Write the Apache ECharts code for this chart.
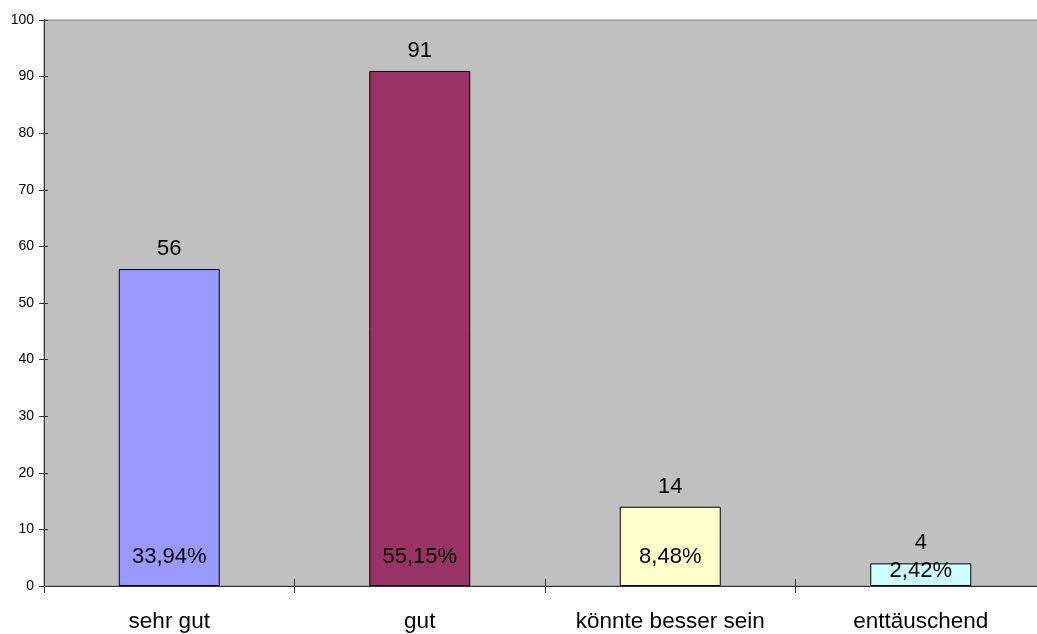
<!DOCTYPE html>
<html>
<head>
<meta charset="utf-8">
<script src="https://cdn.jsdelivr.net/npm/echarts@6/dist/echarts.min.js"></script>
<style>
html,body{margin:0;padding:0;background:#fff;overflow:hidden;}
#chart{width:1046px;height:634px;}
</style>
</head>
<body>
<div id="chart"></div>
<script>
const categories = ['sehr gut', 'gut', 'könnte besser sein', 'enttäuschend'];
const counts = [56, 91, 14, 4];
const percentLabels = ['33,94%', '55,15%', '8,48%', '2,42%'];
const barColors = ['#9999FF', '#993366', '#FFFFCC', '#CCFFFF'];
const yTicks = [0, 10, 20, 30, 40, 50, 60, 70, 80, 90, 100];

const FONT = '"Liberation Sans", Arial, sans-serif';
const chart = echarts.init(document.getElementById('chart'), null, {renderer: 'canvas'});

const countData = counts.map((v, i) => ({
  value: v,
  itemStyle: {color: barColors[i]}
}));
const pctData = counts.map((v, i) => {
  const d = {value: v};
  if (v < 10) d.label = {position: 'insideTop', distance: -3};
  return d;
});

chart.setOption({
  animation: false,
  backgroundColor: '#ffffff',
  grid: {
    left: 44, top: 20, right: 0, height: 566,
    show: true, backgroundColor: '#C0C0C0', borderColor: '#808080', borderWidth: 1
  },
  xAxis: [{
    type: 'category', data: categories, boundaryGap: true,
    axisLine: {lineStyle: {color: '#333333', width: 1}},
    axisTick: {show: true, inside: false, length: 7, alignWithLabel: false, lineStyle: {color: '#333333'}},
    axisLabel: {color: '#000', fontFamily: FONT, fontSize: 22.5, margin: 24, interval: 0},
    splitLine: {show: false}
  }, {
    type: 'category', data: categories, boundaryGap: true, position: 'bottom',
    axisLine: {show: false},
    axisTick: {show: true, inside: true, length: 7, lineStyle: {color: '#333333'}},
    axisLabel: {show: false},
    splitLine: {show: false}
  }],
  yAxis: [{
    type: 'value', min: yTicks[0], max: yTicks[yTicks.length - 1], interval: 10,
    axisLine: {show: true, lineStyle: {color: '#333333', width: 1}},
    axisTick: {show: true, inside: false, length: 5, lineStyle: {color: '#333333'}},
    axisLabel: {color: '#000', fontFamily: FONT, fontSize: 14, margin: 10},
    splitLine: {show: false}
  }, {
    type: 'value', min: yTicks[0], max: yTicks[yTicks.length - 1], interval: 10, position: 'left',
    axisLine: {show: false},
    axisTick: {show: true, inside: true, length: 4, lineStyle: {color: '#333333'}},
    axisLabel: {show: false},
    splitLine: {show: false}
  }],
  series: [{
    type: 'bar', data: countData, barWidth: 101, xAxisIndex: 0, yAxisIndex: 0,
    barGap: '-100%',
    itemStyle: {borderColor: '#000', borderWidth: 1},
    label: {show: true, position: 'top', distance: 9, color: '#000', fontFamily: FONT, fontSize: 22}
  }, {
    type: 'bar', data: pctData, barWidth: 101, xAxisIndex: 0, yAxisIndex: 0,
    barGap: '-100%',
    itemStyle: {color: 'rgba(0,0,0,0)', borderWidth: 0},
    label: {
      show: true, position: 'insideBottom', distance: 18, color: '#000', fontFamily: FONT, fontSize: 22,
      formatter: p => percentLabels[p.dataIndex]
    },
    silent: true
  }]
});
</script>
</body>
</html>
